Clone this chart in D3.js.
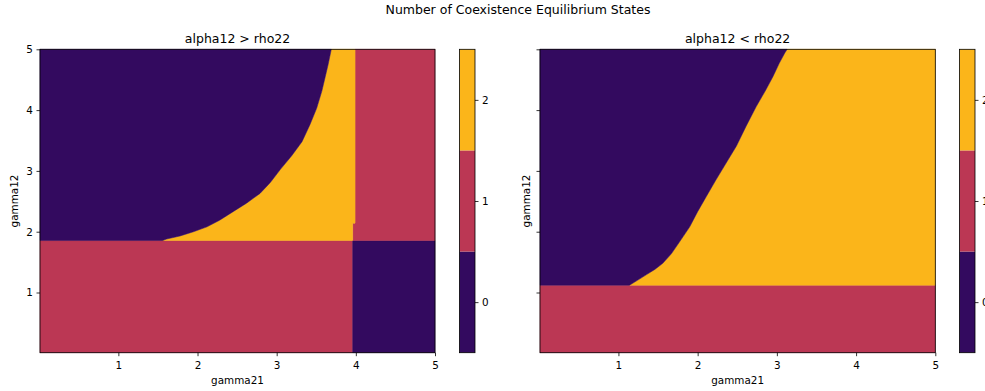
<!DOCTYPE html>
<html>
<head>
<meta charset="utf-8">
<script src="https://cdn.jsdelivr.net/npm/d3@7"></script>
<style>
body { margin: 0; background: #fff; }
svg { display: block; font-family: "DejaVu Sans", sans-serif; }
</style>
</head>
<body>
<div id="chart"></div>
<script>
// number of equilibrium states and their colours
var states = [0, 1, 2];
var stateColors = ["#330a5f", "#bb3754", "#fbb51a"];
var axisTicks = [1, 2, 3, 4, 5];
var cbTicks = [0, 1, 2];

// left panel: alpha12 > rho22
// boundary between the 0-state and 2-state regions
var leftCurveG21 = [1.56, 1.61, 1.78, 1.95, 2.12, 2.28, 2.45, 2.62, 2.79, 2.92, 3.05, 3.19, 3.32, 3.42, 3.505, 3.57, 3.61, 3.65, 3.69];
var leftCurveG12 = [1.855, 1.88, 1.93, 2.00, 2.08, 2.19, 2.33, 2.47, 2.63, 2.81, 3.03, 3.25, 3.48, 3.76, 4.03, 4.31, 4.53, 4.75, 5.00];
var leftSplitG12 = 1.855;         // horizontal boundary
var leftSplitG21 = [3.96, 3.99];  // vertical boundary, below / above the step
var leftStepG12 = 2.14;

// right panel: alpha12 < rho22
var rightCurveG21 = [1.14, 1.24, 1.35, 1.46, 1.56, 1.67, 1.77, 1.90, 2.00, 2.11, 2.23, 2.36, 2.49, 2.61, 2.74, 2.86, 2.95, 3.03, 3.10, 3.13];
var rightCurveG12 = [1.12, 1.20, 1.29, 1.38, 1.48, 1.64, 1.83, 2.08, 2.33, 2.58, 2.85, 3.13, 3.41, 3.73, 4.06, 4.33, 4.55, 4.77, 4.94, 5.00];
var rightSplitG12 = 1.12;

var lo = 0.01, hi = 5;

var width = 985, height = 391;
var svg = d3.select("#chart").append("svg")
    .attr("width", width)
    .attr("height", height);

svg.append("rect").attr("width", width).attr("height", height).attr("fill", "#fff");

svg.append("text")
    .attr("x", 518).attr("y", 14)
    .attr("text-anchor", "middle")
    .style("font-size", "12.5px")
    .text("Number of Coexistence Equilibrium States");

function zipPts(xs, ys) {
    return xs.map(function(d, i) { return [d, ys[i]]; });
}

var leftCurve = zipPts(leftCurveG21, leftCurveG12);
var rightCurve = zipPts(rightCurveG21, rightCurveG12);

var vA = leftSplitG21[0], vB = leftSplitG21[1], hS = leftSplitG12;
var leftRegions = [
    {state: 1, pts: [[lo, lo], [vA, lo], [vA, hS], [lo, hS]]},
    {state: 0, pts: [[vA, lo], [hi, lo], [hi, hS], [vA, hS]]},
    {state: 1, pts: [[vA, hS], [hi, hS], [hi, hi], [vB, hi], [vB, leftStepG12], [vA, leftStepG12]]},
    {state: 2, pts: [[vA, hS], [vA, leftStepG12], [vB, leftStepG12], [vB, hi]].concat(leftCurve.slice().reverse())},
    {state: 0, pts: [[lo, hS]].concat(leftCurve).concat([[lo, hi]])}
];

var rS = rightSplitG12;
var rightRegions = [
    {state: 1, pts: [[lo, lo], [hi, lo], [hi, rS], [lo, rS]]},
    {state: 2, pts: [[hi, rS], [hi, hi]].concat(rightCurve.slice().reverse())},
    {state: 0, pts: [[lo, rS]].concat(rightCurve).concat([[lo, hi]])}
];

var panels = [
    {x0: 40, x1: 435, cbx: 459.5, title: "alpha12 > rho22", regions: leftRegions, yLabels: true, ylabX: 18},
    {x0: 540, x1: 935.3, cbx: 959.5, title: "alpha12 < rho22", regions: rightRegions, yLabels: false, ylabX: 529.5}
];
var plotTop = 49.3, plotBottom = 352.7;

panels.forEach(function(p) {
    var x = d3.scaleLinear().domain([lo, hi]).range([p.x0, p.x1]);
    var y = d3.scaleLinear().domain([lo, hi]).range([plotBottom, plotTop]);
    var line = d3.line()
        .x(function(d) { return x(d[0]); })
        .y(function(d) { return y(d[1]); });

    var g = svg.append("g");

    g.selectAll("path.region")
        .data(p.regions)
        .enter()
        .append("path")
        .attr("class", "region")
        .attr("d", function(d) { return line(d.pts) + "Z"; })
        .attr("fill", function(d) { return stateColors[d.state]; })
        .attr("stroke", function(d) { return stateColors[d.state]; })
        .attr("stroke-width", 0.5);

    g.append("rect")
        .attr("x", p.x0).attr("y", plotTop)
        .attr("width", p.x1 - p.x0).attr("height", plotBottom - plotTop)
        .attr("fill", "none").attr("stroke", "#000").attr("stroke-width", 0.8);

    var xAxis = g.append("g")
        .attr("transform", `translate(0, ${plotBottom})`)
        .call(d3.axisBottom(x).tickValues(axisTicks).tickSize(3.5).tickPadding(5).tickFormat(d3.format("d")));
    var yAxis = g.append("g")
        .attr("transform", `translate(${p.x0}, 0)`)
        .call(d3.axisLeft(y).tickValues(axisTicks).tickSize(3.5).tickPadding(3.7)
            .tickFormat(p.yLabels ? d3.format("d") : function() { return ""; }));

    [xAxis, yAxis].forEach(function(a) {
        a.select(".domain").remove();
        a.selectAll("text").style("font-size", "10.4px").attr("fill", "#000")
            .style("font-family", "DejaVu Sans, sans-serif");
        a.selectAll("line").attr("stroke", "#000").attr("stroke-width", 0.8);
    });

    g.append("text")
        .attr("x", (p.x0 + p.x1) / 2).attr("y", 42.5)
        .attr("text-anchor", "middle")
        .style("font-size", "12.5px")
        .text(p.title);

    g.append("text")
        .attr("x", (p.x0 + p.x1) / 2).attr("y", 383.5)
        .attr("text-anchor", "middle")
        .style("font-size", "10.4px")
        .text("gamma21");

    g.append("text")
        .attr("transform", `translate(${p.ylabX}, ${(plotTop + plotBottom) / 2}) rotate(-90)`)
        .attr("text-anchor", "middle")
        .style("font-size", "10.4px")
        .text("gamma12");

    // colourbar
    var cy = d3.scaleLinear().domain([-0.5, 2.5]).range([plotBottom, plotTop]);
    var cbw = 15.5;
    g.selectAll("rect.band")
        .data(states)
        .enter()
        .append("rect")
        .attr("class", "band")
        .attr("x", p.cbx)
        .attr("y", function(d) { return cy(d + 0.5); })
        .attr("width", cbw)
        .attr("height", function(d) { return cy(d - 0.5) - cy(d + 0.5); })
        .attr("fill", function(d) { return stateColors[d]; });

    g.append("rect")
        .attr("x", p.cbx).attr("y", plotTop)
        .attr("width", cbw).attr("height", plotBottom - plotTop)
        .attr("fill", "none").attr("stroke", "#000").attr("stroke-width", 0.8);

    var cbAxis = g.append("g")
        .attr("transform", `translate(${p.cbx + cbw}, 0)`)
        .call(d3.axisRight(cy).tickValues(cbTicks).tickSize(3.5).tickPadding(3.5).tickFormat(d3.format("d")));
    cbAxis.select(".domain").remove();
    cbAxis.selectAll("text").style("font-size", "10.4px").attr("fill", "#000")
        .style("font-family", "DejaVu Sans, sans-serif");
    cbAxis.selectAll("line").attr("stroke", "#000").attr("stroke-width", 0.8);
});
</script>
</body>
</html>
